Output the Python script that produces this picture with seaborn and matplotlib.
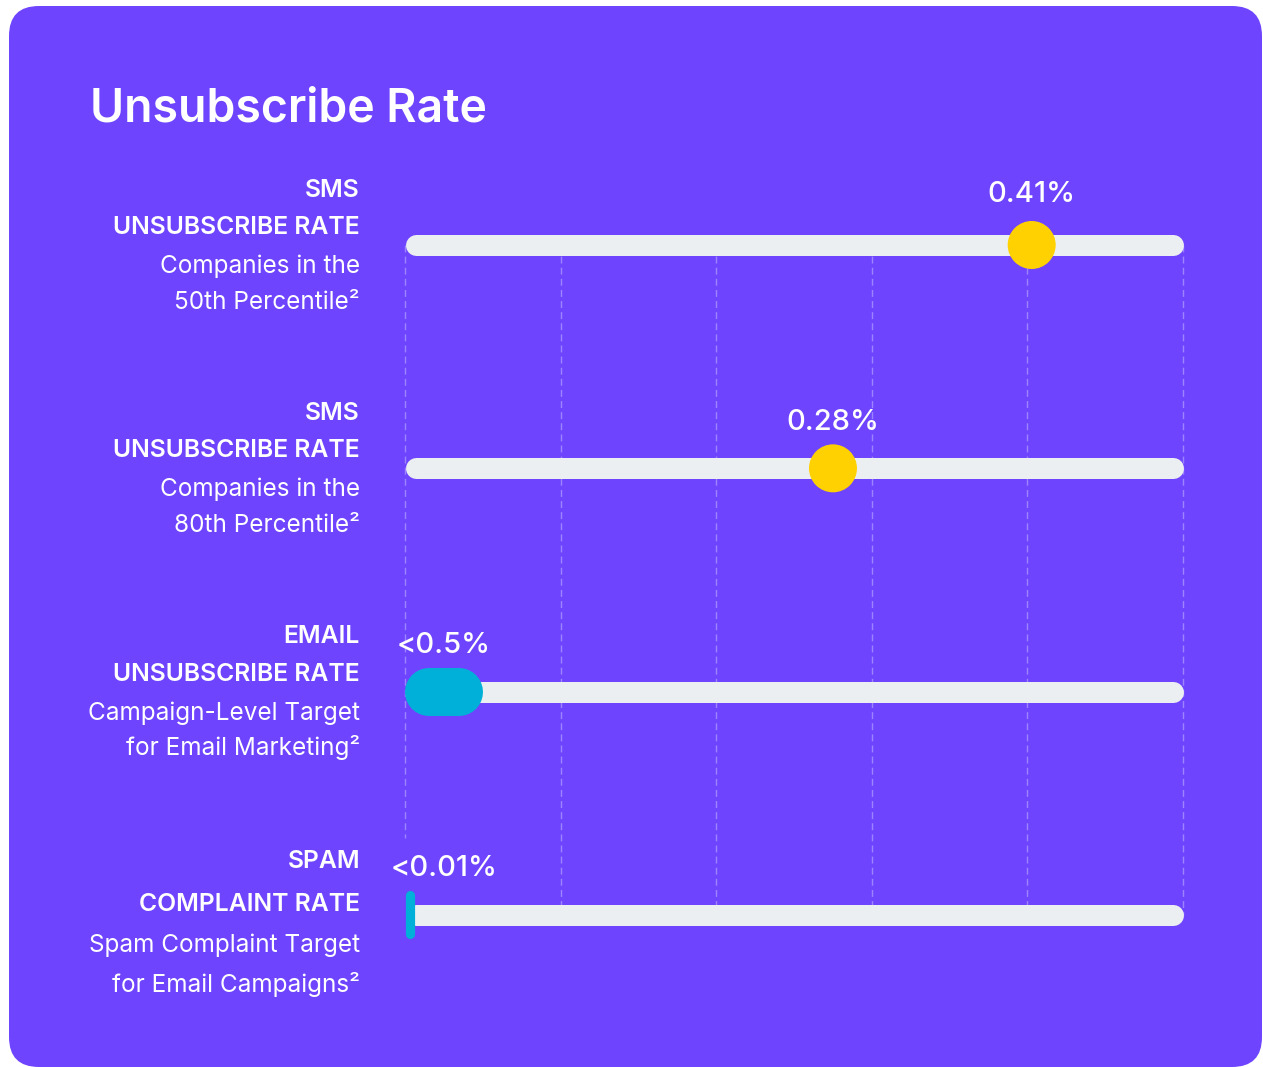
import numpy as np
import pandas as pd
import matplotlib
matplotlib.use("Agg")
import matplotlib.pyplot as plt
import matplotlib.transforms as mtransforms
from matplotlib.patches import FancyBboxPatch
import seaborn as sns

# ---- data -------------------------------------------------------------
title = "Unsubscribe Rate"
metric_names = ["SMS", "SMS", "EMAIL", "SPAM"]
metric_kinds = ["UNSUBSCRIBE RATE", "UNSUBSCRIBE RATE", "UNSUBSCRIBE RATE", "COMPLAINT RATE"]
desc_line1 = ["Companies in the", "Companies in the", "Campaign-Level Target", "Spam Complaint Target"]
desc_line2 = ["50th Percentile²", "80th Percentile²", "for Email Marketing²", "for Email Campaigns²"]
value_labels = ["0.41%", "0.28%", "<0.5%", "<0.01%"]
sms_values = [0.41, 0.28]          # percent, shown as yellow dots on rows 0 and 1
email_bar_end = 0.051              # percent, cyan pill on row 2
spam_bar_end = 0.006               # percent, thin cyan tick on row 3
axis_max = 0.509                   # right end of every track

# ---- style ------------------------------------------------------------
W, H, DPI = 1263, 1067, 100
PURPLE = "#6E44FF"
TRACK = "#ECEFF1"
YELLOW = "#FFD100"
CYAN = "#00B0D8"
GRID = "#9D84FF"
PX = 72 / DPI                       # points per pixel

sns.set_theme(style="white")
plt.rcParams["font.family"] = ["Inter", "DejaVu Sans"]

fig = plt.figure(figsize=(W / DPI, H / DPI), dpi=DPI, facecolor="white")

# background card in pixel coordinates
bg = fig.add_axes([0, 0, 1, 1])
bg.set_xlim(0, W)
bg.set_ylim(H, 0)
bg.axis("off")
bg.add_patch(FancyBboxPatch((9, 6), 1253, 1061,
                            boxstyle="round,pad=0,rounding_size=30",
                            facecolor=PURPLE, edgecolor="none"))
bg.text(90, 122, title, color="white", fontsize=33.4, fontweight="semibold",
        ha="left", va="baseline")

# chart area: x in percent, y in row index
ax = fig.add_axes([405 / W, 0, 778 / W, 1])
ax.set_facecolor("none")
row_px = 223.33
ax.set_xlim(0, axis_max)
ax.set_ylim((H - 245) / row_px, -245 / row_px)
ax.axis("off")

rows = np.arange(len(metric_names))
px_x = axis_max / 778               # data units per pixel along x
px_y = 1 / row_px                   # data units per pixel along y

# dashed guides
grid_x = np.linspace(0, axis_max, 6)
grid_bottom = [(838 - 245) / row_px] + [rows[-1]] * 5
for gx, gb in zip(grid_x, grid_bottom):
    ax.plot([gx, gx], [0, gb], color=GRID, lw=1, ls=(0, (5, 3)),
            zorder=1, clip_on=False)

# tracks
track_r = 10.5 * px_x
for r in rows:
    ax.plot([track_r, axis_max - track_r], [r, r], color=TRACK,
            lw=21 * PX, solid_capstyle="round", zorder=2, clip_on=False)

# SMS dots
dots = pd.DataFrame({"value": sms_values, "row": rows[:2]})
sns.scatterplot(data=dots, x="value", y="row", ax=ax, s=(48 * PX) ** 2,
                color=YELLOW, edgecolor="none", zorder=4, clip_on=False,
                legend=False)

# email pill
pill_r = 24 * px_x
ax.plot([pill_r, email_bar_end - pill_r], [2, 2], color=CYAN,
        lw=48 * PX, solid_capstyle="round", zorder=4, clip_on=False)

# spam tick
tick_half = 4.5 * px_y
ax.plot([spam_bar_end / 2, spam_bar_end / 2],
        [3 - 24 * px_y + tick_half, 3 + 24 * px_y - tick_half],
        color=CYAN, lw=spam_bar_end / px_x * PX, solid_capstyle="round",
        zorder=4, clip_on=False)

# value labels above each mark
label_x = sms_values + [email_bar_end / 2, email_bar_end / 2]
label_dy = [43, 38, 39, 39]
for r, lx, txt, dy in zip(rows, label_x, value_labels, label_dy):
    ax.annotate(txt, xy=(lx, r), xytext=(0, dy * PX), textcoords="offset points",
                ha="center", va="baseline", color="white", fontsize=21,
                fontweight="medium", zorder=5, annotation_clip=False)

# left-hand descriptions
left = mtransforms.blended_transform_factory(fig.transFigure, ax.transData)
line_dy = [[-48, -11, 28, 64], [-48, -11, 28, 64],
           [-49, -11, 28, 63], [-47, -4, 37, 77]]
for r in rows:
    texts = [metric_names[r], metric_kinds[r], desc_line1[r], desc_line2[r]]
    weights = ["semibold", "semibold", "normal", "normal"]
    sizes = [17.8, 17.8, 17.5, 17.5]
    for txt, wt, fs, dy in zip(texts, weights, sizes, line_dy[r]):
        ax.annotate(txt, xy=(360 / W, r), xycoords=left,
                    xytext=(0, -dy * PX), textcoords="offset points",
                    ha="right", va="baseline", color="white", fontsize=fs,
                    fontweight=wt, annotation_clip=False)

fig.savefig("out.png", dpi=DPI, facecolor="white")
